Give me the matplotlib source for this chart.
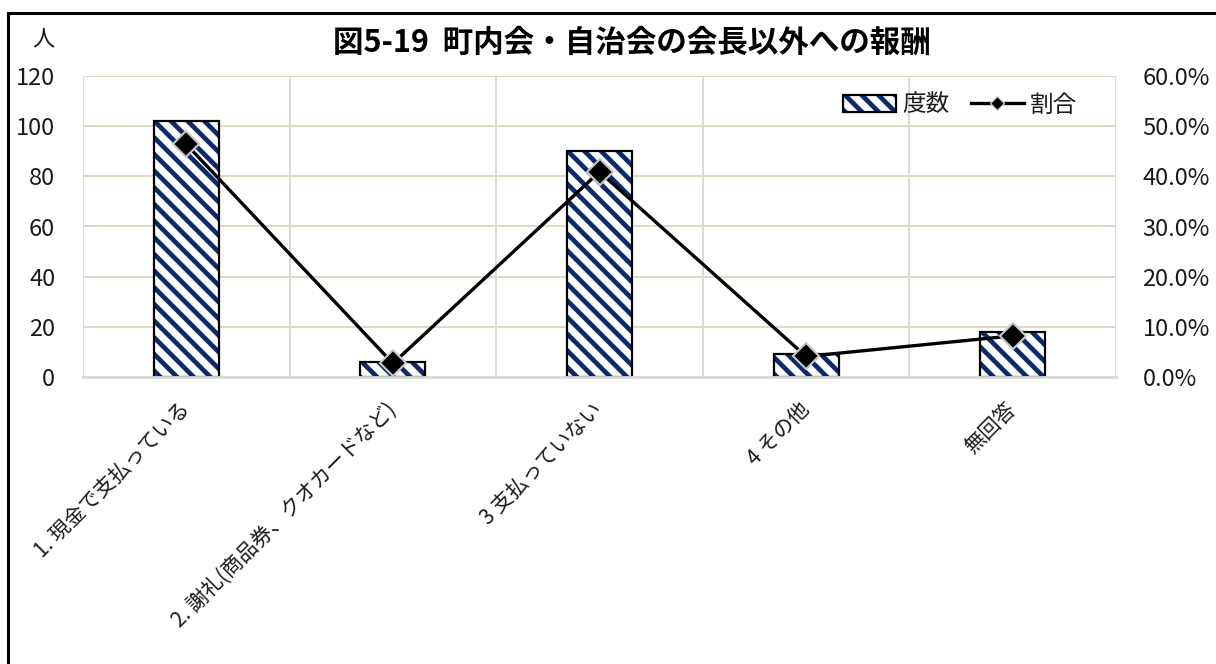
import matplotlib
matplotlib.use("Agg")
import matplotlib.pyplot as plt
import numpy as np
from matplotlib.lines import Line2D
from matplotlib.patches import Patch

plt.rcParams['font.family'] = ['Noto Sans CJK JP', 'DejaVu Sans']
plt.rcParams['hatch.linewidth'] = 3.4

categories = ['1. 現金で支払っている', '2. 謝礼(商品券、クオカードなど)', '3 支払っていない', '4 その他', '無回答']
counts = [102, 6, 90, 9, 18]
ratios = [46.4, 2.7, 40.9, 4.1, 8.2]
left_ticks = [0, 20, 40, 60, 80, 100, 120]
right_ticks = [0, 10, 20, 30, 40, 50, 60]

navy = '#0b2a6b'
text_col = '#1a1a1a'

fig = plt.figure(figsize=(12.16, 6.64), dpi=100)
ax = fig.add_axes([83 / 1216, 1 - 377 / 664, 1033 / 1216, 301 / 664])
x = np.arange(len(categories))
# hatch layer (navy stripes)
ax.bar(x, counts, width=0.315, color='white', edgecolor=navy, linewidth=0,
       hatch='\\\\', zorder=2)
# black outline
ax.bar(x, counts, width=0.315, fill=False, edgecolor='black', linewidth=1.6, zorder=2.5)

ax.set_xlim(-0.5, len(categories) - 0.5)
ax.set_ylim(0, 120)
ax.set_yticks(left_ticks)
ax.set_yticklabels([str(v) for v in left_ticks], fontsize=17, color=text_col)
ax.set_xticks(x)
ax.set_xticklabels(categories, rotation=45, ha='right', va='center',
                   rotation_mode='anchor', fontsize=15, color=text_col)
ax.set_xticks(np.arange(-0.5, len(categories), 1), minor=True)
ax.tick_params(axis='x', which='both', length=0, pad=21)
ax.tick_params(axis='y', length=0, pad=20)
ax.grid(axis='y', color='#dcd8c6', linewidth=1.4, zorder=0)
ax.grid(axis='x', which='minor', color='#dad9d4', linewidth=1.4, zorder=0)
for s in ['top', 'right', 'left']:
    ax.spines[s].set_visible(False)
ax.spines['bottom'].set_color('#d9d9d9')
ax.spines['bottom'].set_linewidth(2)

ax2 = ax.twinx()
ax2.plot(x, ratios, color='black', linewidth=2.4, marker='D', markersize=13,
         markerfacecolor='black', markeredgecolor='#c8c8c8', markeredgewidth=1.5,
         zorder=3)
ax2.set_ylim(0, 60)
ax2.set_yticks(right_ticks)
ax2.set_yticklabels([f'{v:.1f}%' for v in right_ticks], fontsize=17, color=text_col)
ax2.tick_params(axis='y', length=0, pad=19)
for s in ['top', 'right', 'left', 'bottom']:
    ax2.spines[s].set_visible(False)

h_bar = Patch(facecolor='white', edgecolor=navy, hatch='\\\\', linewidth=0)
h_bar_outline = Patch(fill=False, edgecolor='black', linewidth=1.6)
h_line = Line2D([], [], color='black', linewidth=2.4, marker='D', markersize=7,
                markerfacecolor='black', markeredgecolor='#c8c8c8', markeredgewidth=1)
leg = ax2.legend([(h_bar, h_bar_outline), h_line], ['度数', '割合'], loc='center right',
                 bbox_to_anchor=(1077 / 1216, 1 - 105 / 664), bbox_transform=fig.transFigure,
                 ncol=2, frameon=False, fontsize=17, handlelength=2.25, columnspacing=0.9,
                 handletextpad=0.25, borderpad=0, borderaxespad=0)
for t in leg.get_texts():
    t.set_color(text_col)

fig.text(632 / 1216, 1 - 43 / 664, '図5-19  町内会・自治会の会長以外への報酬', ha='center', va='center',
         fontsize=22, fontweight='bold', color='black')
fig.text(43 / 1216, 1 - 40 / 664, '人', ha='center', va='center', fontsize=16, color=text_col)

# outer frame (left and top visible; right/bottom extend past the image)
fig.add_artist(Line2D([8 / 1216, 8 / 1216], [-0.01, 1 - 13 / 664], transform=fig.transFigure,
                      color='black', linewidth=2.2))
fig.add_artist(Line2D([8 / 1216, 1.01], [1 - 13 / 664, 1 - 13 / 664], transform=fig.transFigure,
                      color='black', linewidth=2.2))

fig.savefig('out.png', dpi=100)
